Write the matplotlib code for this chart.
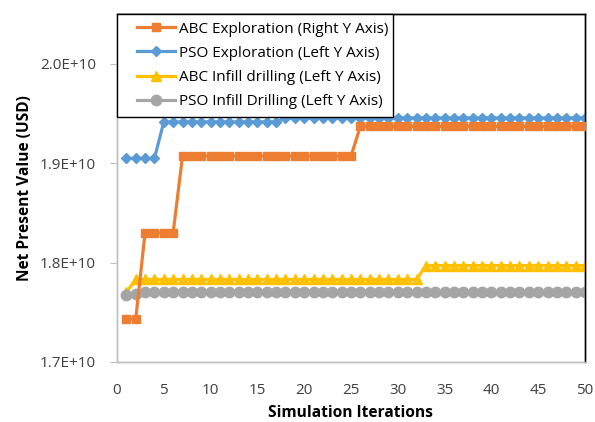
import matplotlib
matplotlib.use("Agg")
import matplotlib.pyplot as plt
from matplotlib.ticker import FuncFormatter, MultipleLocator
from matplotlib.legend_handler import HandlerLine2D

plt.rcParams['font.family'] = ['Open Sans', 'DejaVu Sans']

iterations = list(range(1, 51))

abc_exploration = [1.743e10]*2 + [1.830e10]*4 + [1.907e10]*19 + [1.937e10]*25
pso_exploration = [1.9047e10]*4 + [1.9415e10]*13 + [1.9455e10]*33
abc_infill = [1.770e10] + [1.783e10]*31 + [1.797e10]*18
pso_infill = [1.7675e10, 1.768e10] + [1.770e10]*48

labels = ["ABC Exploration (Right Y Axis)", "PSO Exploration (Left Y Axis)",
          "ABC Infill drilling (Left Y Axis)", "PSO Infill Drilling (Left Y Axis)"]
colors = ["#ED7D31", "#5B9BD5", "#FFC000", "#A5A5A5"]

fig = plt.figure(figsize=(5.95, 4.22), dpi=100)
ax = fig.add_axes([0.1966, 0.1422, 0.7866, 0.8246])

lw = 2.3
h2, = ax.plot(iterations, pso_exploration, color=colors[1], lw=lw, marker='D', ms=5.5, label=labels[1], zorder=3)
h3, = ax.plot(iterations, abc_infill, color=colors[2], lw=lw, marker='^', ms=7, label=labels[2], zorder=3)
h4, = ax.plot(iterations, pso_infill, color=colors[3], lw=lw, marker='o', ms=7.5, label=labels[3], zorder=3)

ax2 = ax.twinx()
h1, = ax2.plot(iterations, abc_exploration, color=colors[0], lw=lw, marker='s', ms=5.5, label=labels[0], zorder=3)

for a in (ax, ax2):
    a.set_xlim(0, 50)
    a.set_ylim(1.7e10, 2.05e10)

ax.yaxis.set_major_locator(MultipleLocator(1e9))
ax.yaxis.set_major_formatter(FuncFormatter(lambda v, p: f"{v/1e10:.1f}E+10"))
ax.xaxis.set_major_locator(MultipleLocator(5))
ax.tick_params(axis='y', direction='out', length=5, color='#BFBFBF', labelsize=11, labelcolor='#404040', pad=10)
ax.tick_params(axis='x', length=0, labelsize=11, labelcolor='#404040', pad=15)
ax2.set_yticks([])
ax2.tick_params(axis='y', length=0)

for a in (ax, ax2):
    a.spines['left'].set_color('#BFBFBF')
    a.spines['bottom'].set_color('#BFBFBF')
    a.spines['top'].set_color('black')
    a.spines['right'].set_color('black')
    for s in a.spines.values():
        s.set_linewidth(1.0)

ax.set_xlabel("Simulation Iterations", fontsize=11.2, fontweight='bold', labelpad=5)
ax.set_ylabel("Net Present Value (USD)", fontsize=11.2, fontweight='bold', labelpad=5)

hm = {h: HandlerLine2D(xpad=0.8) for h in (h1, h2, h3, h4)}
leg = ax2.legend(handles=[h1, h2, h3, h4], loc='upper left', bbox_to_anchor=(0, 0, 0.59, 1),
                 mode='expand', handler_map=hm,
                 fontsize=11, frameon=True, fancybox=False, framealpha=1,
                 edgecolor='black', borderaxespad=0, handlelength=3.3,
                 labelspacing=0.6, borderpad=0.5, handletextpad=0.26)
leg.get_frame().set_linewidth(1.0)
leg.set_zorder(10)

fig.savefig("out.png", dpi=100)
